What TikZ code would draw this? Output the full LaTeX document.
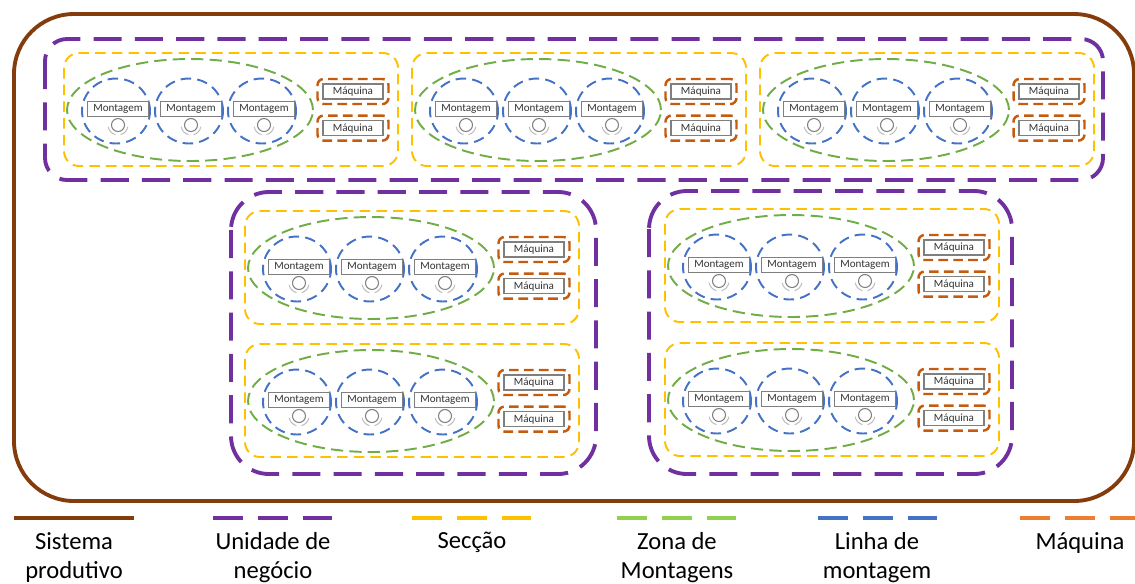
\documentclass[tikz,border=0pt]{standalone}
\usepackage{fontspec}
\setmainfont{Carlito}
\usetikzlibrary{positioning}

\definecolor{castanho}{HTML}{843C0C}
\definecolor{roxo}{HTML}{7030A0}
\definecolor{amarelo}{HTML}{FFC000}
\definecolor{verde}{HTML}{70AD47}
\definecolor{verdeclaro}{HTML}{92D050}
\definecolor{azul}{HTML}{4472C4}
\definecolor{laranja}{HTML}{C55A11}
\definecolor{laranjaclaro}{HTML}{ED7D31}
\definecolor{cinza}{HTML}{7F7F7F}
\definecolor{cinzaclaro}{HTML}{BFBFBF}

% seccao: nome, canto superior esquerdo (x,y)
\newcommand{\seccao}[3]{%
\begin{scope}[shift={(#2,#3)}]
\draw[seccao](0,0) rectangle (334,113);
\draw[zona](126,57) ellipse [x radius=2.46cm,y radius=1.02cm];
\foreach \k/\cx in {1/52,2/125,3/198}{
  \draw[linha](\cx,58) ellipse [x radius=0.68cm,y radius=0.65cm];
  \node[montagem](#1m\k) at (\cx+2,56){Montagem};
  \draw[icone](\cx+2,72) circle [radius=0.13cm];
  \draw[onda](\cx+2,72) ++(190:0.2cm) arc [start angle=190,end angle=255,radius=0.2cm];
  \draw[onda](\cx+2,72) ++(285:0.2cm) arc [start angle=285,end angle=350,radius=0.2cm];
}
\node[maquina](#1q1) at (289,38.5){Máquina};
\node[maquina,below=0.4cm of #1q1](#1q2){Máquina};
\node[maqborda](#1b1) at (#1q1){};
\node[maqborda](#1b2) at (#1q2){};
\end{scope}}

\begin{document}
\begin{tikzpicture}[x=0.02cm,y=-0.02cm]
\tikzstyle{sistema}=[draw=castanho,line width=2.2pt]
\tikzstyle{unidade}=[draw=roxo,line width=2.2pt,dash pattern=on 16pt off 7.5pt]
\tikzstyle{seccao}=[draw=amarelo,line width=1.1pt,dash pattern=on 6pt off 3.5pt,rounded corners=0.3cm]
\tikzstyle{zona}=[draw=verde,line width=1.1pt,dash pattern=on 7pt off 3.5pt]
\tikzstyle{linha}=[draw=azul,line width=1.1pt,dash pattern=on 6pt off 3.5pt]
\tikzstyle{icone}=[draw=cinza,line width=0.6pt]
\tikzstyle{onda}=[draw=cinzaclaro,line width=0.6pt]
\tikzstyle{montagem}=[draw=cinza,line width=0.9pt,fill=white,minimum width=1.22cm,minimum height=0.3cm,inner sep=0pt,text=black!80,font=\fontsize{6.3}{7}\selectfont]
\tikzstyle{maquina}=[draw=cinza,line width=0.9pt,fill=white,minimum width=1.2cm,minimum height=0.3cm,inner sep=0pt,text=black!80,font=\fontsize{6.3}{7}\selectfont]
\tikzstyle{maqborda}=[draw=laranja,line width=1.4pt,dash pattern=on 5.5pt off 3pt,rounded corners=0.12cm,minimum width=1.42cm,minimum height=0.5cm,inner sep=0pt]
\tikzstyle{traco}=[line width=2.2pt,dash pattern=on 17pt off 8.5pt]
\tikzstyle{legenda}=[anchor=north,align=center,inner sep=0pt,font=\fontsize{14}{16.5}\selectfont]
\useasboundingbox (0,0) rectangle (1135,583);

% sistema produtivo
\draw[sistema,rounded corners=1.2cm](14,14) rectangle (1134,501);

% unidades de negocio
\draw[unidade,rounded corners=0.44cm](45,39) rectangle (1103,180);
\draw[unidade,rounded corners=0.76cm](231,192) rectangle (596,474);
\draw[unidade,rounded corners=0.76cm](649,191) rectangle (1012,474);

% seccoes
\seccao{a}{64}{53}
\seccao{b}{412}{53}
\seccao{c}{760}{53}
\seccao{d}{245}{211}
\seccao{e}{245}{344}
\seccao{f}{665}{209}
\seccao{g}{665}{343}

% legenda
\draw[sistema](14,518)--(134,518);
\draw[traco,draw=roxo](213,518)--(333,518);
\draw[traco,draw=amarelo](412,518)--(532,518);
\draw[traco,draw=verdeclaro](617,518)--(737,518);
\draw[traco,draw=azul](818,518)--(938,518);
\draw[traco,draw=laranjaclaro](1020,518)--(1140,518);
\node[legenda](lsis) at (74,532){Sistema\\produtivo};
\node[legenda](luni) at (273,532){Unidade de\\negócio};
\node[legenda](lsec) at (472,532){Secção};
\node[legenda](lzon) at (677,532){Zona de\\Montagens};
\node[legenda](llin) at (877,532){Linha de\\montagem};
\node[legenda](lmaq) at (1080,532){Máquina};
\end{tikzpicture}
\end{document}
